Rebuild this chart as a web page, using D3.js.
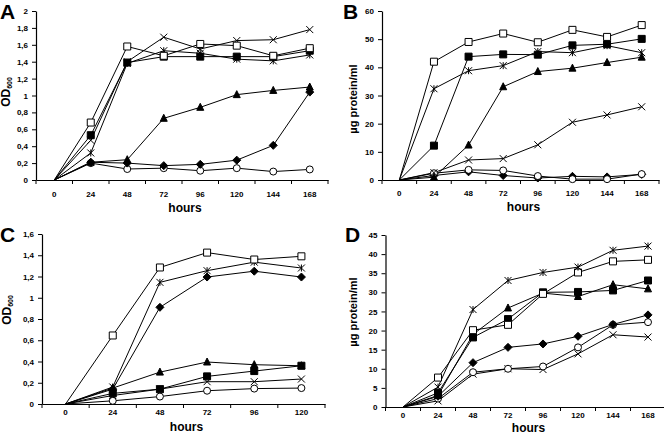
<!DOCTYPE html>
<html>
<head>
<meta charset="utf-8">
<script src="https://cdn.jsdelivr.net/npm/d3@7"></script>
<style>
html,body{margin:0;padding:0;background:#fff;}
svg{display:block;font-family:"Liberation Sans",Arial,sans-serif;}
</style>
</head>
<body>
<script>
// ---------- DATA ----------
const hours8 = ["0","24","48","72","96","120","144","168"];
const hours6 = ["0","24","48","72","96","120"];

// Panel A (OD600)
const A_openSquare   = [0, 0.68, 1.58, 1.47, 1.61, 1.59, 1.47, 1.56];
const A_filledSquare = [0, 0.53, 1.39, 1.46, 1.46, 1.46, 1.46, 1.53];
const A_triangle     = [0, 0.21, 0.24, 0.73, 0.86, 1.01, 1.06, 1.10];
const A_cross        = [0, 0.47, 1.40, 1.69, 1.55, 1.65, 1.66, 1.78];
const A_asterisk     = [0, 0.32, 1.38, 1.53, 1.50, 1.43, 1.41, 1.48];
const A_diamond      = [0, 0.21, 0.20, 0.17, 0.185, 0.235, 0.41, 1.04];
const A_circle       = [0, 0.20, 0.13, 0.14, 0.11, 0.14, 0.10, 0.125];
const A_yTicks = [0, 0.2, 0.4, 0.6, 0.8, 1, 1.2, 1.4, 1.6, 1.8, 2];

// Panel B (µg protein/ml)
const B_openSquare   = [0, 42, 49, 52, 48.9, 53.3, 50.8, 55];
const B_filledSquare = [0, 12.2, 43.8, 44.6, 44.5, 47.8, 48.2, 50.1];
const B_triangle     = [0, 1.0, 12.4, 33.1, 38.5, 39.7, 41.7, 43.6];
const B_cross        = [0, 2.6, 7.1, 7.6, 12.5, 20.5, 23.1, 26];
const B_asterisk     = [0, 32.4, 38.8, 40.6, 45.6, 45.2, 47.7, 45.2];
const B_diamond      = [0, 1.6, 2.9, 1.6, 0.7, 1.3, 1.1, 2.0];
const B_circle       = [0, 2.4, 3.6, 3.4, 1.4, 0.3, 0.3, 2.1];
const B_yTicks = [0, 10, 20, 30, 40, 50, 60];

// Panel C (OD600)
const C_openSquare   = [0, 0.645, 1.285, 1.425, 1.36, 1.39];
const C_filledSquare = [0, 0.10, 0.14, 0.26, 0.31, 0.36];
const C_triangle     = [0, 0.15, 0.30, 0.395, 0.37, 0.36];
const C_cross        = [0, 0.08, 0.14, 0.21, 0.21, 0.235];
const C_asterisk     = [0, 0.16, 1.145, 1.255, 1.335, 1.28];
const C_diamond      = [0, 0.14, 0.91, 1.195, 1.25, 1.195];
const C_circle       = [0, 0.03, 0.07, 0.125, 0.145, 0.15];
const C_yTicks = [0, 0.2, 0.4, 0.6, 0.8, 1, 1.2, 1.4, 1.6];

// Panel D (µg protein/ml)
const D_openSquare   = [0, 7.7, 20.1, 21.5, 29.6, 35.2, 38.1, 38.5];
const D_filledSquare = [0, 3.7, 18.2, 23.0, 30.0, 30.1, 30.5, 33.1];
const D_triangle     = [0, 3.0, 19.0, 25.9, 29.8, 28.9, 32.0, 30.9];
const D_cross        = [0, 1.6, 8.6, 10.0, 9.8, 13.9, 18.9, 18.3];
const D_asterisk     = [0, 5.2, 25.5, 33.1, 35.2, 36.6, 41.0, 42.1];
const D_diamond      = [0, 2.8, 11.6, 15.6, 16.5, 18.5, 21.6, 24.1];
const D_circle       = [0, 2.2, 9.1, 10.0, 10.6, 15.6, 21.5, 22.2];
const D_yTicks = [0, 5, 10, 15, 20, 25, 30, 35, 40, 45];

// ---------- MARKERS ----------
const S = 3.5;
const markerDefs = {
  openSquare:   {d: `M${-S},${-S}H${S}V${S}H${-S}Z`, fill: "#fff", stroke: "#000"},
  filledSquare: {d: `M${-S},${-S}H${S}V${S}H${-S}Z`, fill: "#000", stroke: "#000"},
  triangle:     {d: `M0,${-S*1.15}L${S},${S*0.85}L${-S},${S*0.85}Z`, fill: "#000", stroke: "#000"},
  diamond:      {d: `M0,${-S-0.5}L${S+0.5},0L0,${S+0.5}L${-S-0.5},0Z`, fill: "#000", stroke: "#000"},
  circle:       {d: d3.symbol(d3.symbolCircle, Math.PI*S*S)(), fill: "#fff", stroke: "#000"},
  cross:        {d: `M${-S},${-S}L${S},${S}M${S},${-S}L${-S},${S}`, fill: "none", stroke: "#000"},
  asterisk:     {d: `M${-S},${-S}L${S},${S}M${S},${-S}L${-S},${S}M0,${-S}L0,${S}`, fill: "none", stroke: "#000"}
};

const svg = d3.select("body").append("svg").attr("width", 664).attr("height", 438);
const fmt = v => d3.format("")(v).replace(".", ",");

function panel(o) {
  const g = svg.append("g");
  const x = d3.scaleBand().domain(o.cats).range([o.left, o.right]).padding(0);
  const y = d3.scaleLinear().domain([0, o.yMax]).range([o.bottom, o.top]);

  // y axis
  const ya = g.append("g").attr("transform", `translate(${o.left},0)`)
    .call(d3.axisLeft(y).tickValues(o.yTicks).tickFormat(fmt).tickSize(4).tickPadding(4).tickSizeOuter(0));
  ya.select(".domain").attr("stroke", "#000").attr("stroke-width", 1.2);
  ya.selectAll(".tick line").attr("stroke", "#000");
  ya.selectAll("text").attr("font-size", 8).attr("font-weight", "bold").attr("font-family", "Liberation Sans, Arial, sans-serif");

  // x axis (labels at band centres, ticks at band boundaries)
  const xa = g.append("g").attr("transform", `translate(0,${o.bottom})`)
    .call(d3.axisBottom(x).tickSize(0).tickPadding(o.xLabelPad).tickSizeOuter(0));
  xa.select(".domain").attr("stroke", "#000").attr("stroke-width", 1.2);
  xa.selectAll("text").attr("font-size", 8).attr("font-weight", "bold").attr("font-family", "Liberation Sans, Arial, sans-serif");
  const bounds = o.cats.map(c => x(c)).concat([o.right]);
  g.selectAll(".btick").data(bounds).join("line")
    .attr("x1", d => d).attr("x2", d => d)
    .attr("y1", o.bottom).attr("y2", o.bottom + 4)
    .attr("stroke", "#000");

  // series
  const line = d3.line().x((d, i) => x(o.cats[i]) + x.bandwidth() / 2).y(d => y(d));
  o.series.forEach(s => {
    g.append("path").attr("d", line(s.values)).attr("fill", "none").attr("stroke", "#000").attr("stroke-width", 1);
  });
  o.series.forEach(s => {
    const m = markerDefs[s.marker];
    g.selectAll(null).data(s.values.slice(1)).join("path")
      .attr("transform", (d, i) => `translate(${x(o.cats[i + 1]) + x.bandwidth() / 2},${y(d)})`)
      .attr("d", m.d).attr("fill", m.fill).attr("stroke", m.stroke).attr("stroke-width", 1);
  });

  // labels
  g.append("text").attr("x", o.letterX).attr("y", o.letterY).text(o.letter)
    .attr("font-size", 21).attr("font-weight", "bold");
  g.append("text").attr("x", (o.left + o.right) / 2 + 3).attr("y", o.hoursY).text("hours")
    .attr("text-anchor", "middle").attr("font-size", 12).attr("font-weight", "bold");
  const yl = g.append("text").attr("transform", `translate(${o.yLabelX},${o.yLabelY}) rotate(-90)`)
    .attr("text-anchor", "middle").attr("font-weight", "bold");
  if (o.yLabel === "OD") {
    yl.attr("font-size", 12);
    yl.append("tspan").text("OD");
    yl.append("tspan").text("600").attr("font-size", 7).attr("dy", 2);
  } else {
    yl.attr("font-size", 11).text(o.yLabel);
  }
}

panel({
  cats: hours8, left: 36, right: 328, top: 11, bottom: 180, yMax: 2, yTicks: A_yTicks,
  xLabelPad: 11, letter: "A", letterX: 0, letterY: 19, hoursY: 212, yLabel: "OD", yLabelX: 10, yLabelY: 92,
  series: [
    {values: A_circle, marker: "circle"},
    {values: A_diamond, marker: "diamond"},
    {values: A_triangle, marker: "triangle"},
    {values: A_asterisk, marker: "asterisk"},
    {values: A_cross, marker: "cross"},
    {values: A_filledSquare, marker: "filledSquare"},
    {values: A_openSquare, marker: "openSquare"}
  ]
});

panel({
  cats: hours8, left: 382, right: 659, top: 11, bottom: 180, yMax: 60, yTicks: B_yTicks,
  xLabelPad: 10, letter: "B", letterX: 343, letterY: 19, hoursY: 211, yLabel: "µg protein/ml", yLabelX: 357, yLabelY: 99,
  series: [
    {values: B_diamond, marker: "diamond"},
    {values: B_circle, marker: "circle"},
    {values: B_cross, marker: "cross"},
    {values: B_triangle, marker: "triangle"},
    {values: B_asterisk, marker: "asterisk"},
    {values: B_filledSquare, marker: "filledSquare"},
    {values: B_openSquare, marker: "openSquare"}
  ]
});

panel({
  cats: hours6, left: 42, right: 325, top: 234, bottom: 404, yMax: 1.6, yTicks: C_yTicks,
  xLabelPad: 5, letter: "C", letterX: 0, letterY: 242, hoursY: 431, yLabel: "OD", yLabelX: 11, yLabelY: 310,
  series: [
    {values: C_circle, marker: "circle"},
    {values: C_cross, marker: "cross"},
    {values: C_filledSquare, marker: "filledSquare"},
    {values: C_triangle, marker: "triangle"},
    {values: C_diamond, marker: "diamond"},
    {values: C_asterisk, marker: "asterisk"},
    {values: C_openSquare, marker: "openSquare"}
  ]
});

panel({
  cats: hours8, left: 385.5, right: 665.5, top: 235, bottom: 407, yMax: 45, yTicks: D_yTicks,
  xLabelPad: 5, letter: "D", letterX: 345, letterY: 242, hoursY: 432, yLabel: "µg protein/ml", yLabelX: 357, yLabelY: 312,
  series: [
    {values: D_cross, marker: "cross"},
    {values: D_circle, marker: "circle"},
    {values: D_diamond, marker: "diamond"},
    {values: D_triangle, marker: "triangle"},
    {values: D_filledSquare, marker: "filledSquare"},
    {values: D_openSquare, marker: "openSquare"},
    {values: D_asterisk, marker: "asterisk"}
  ]
});
</script>
</body>
</html>
